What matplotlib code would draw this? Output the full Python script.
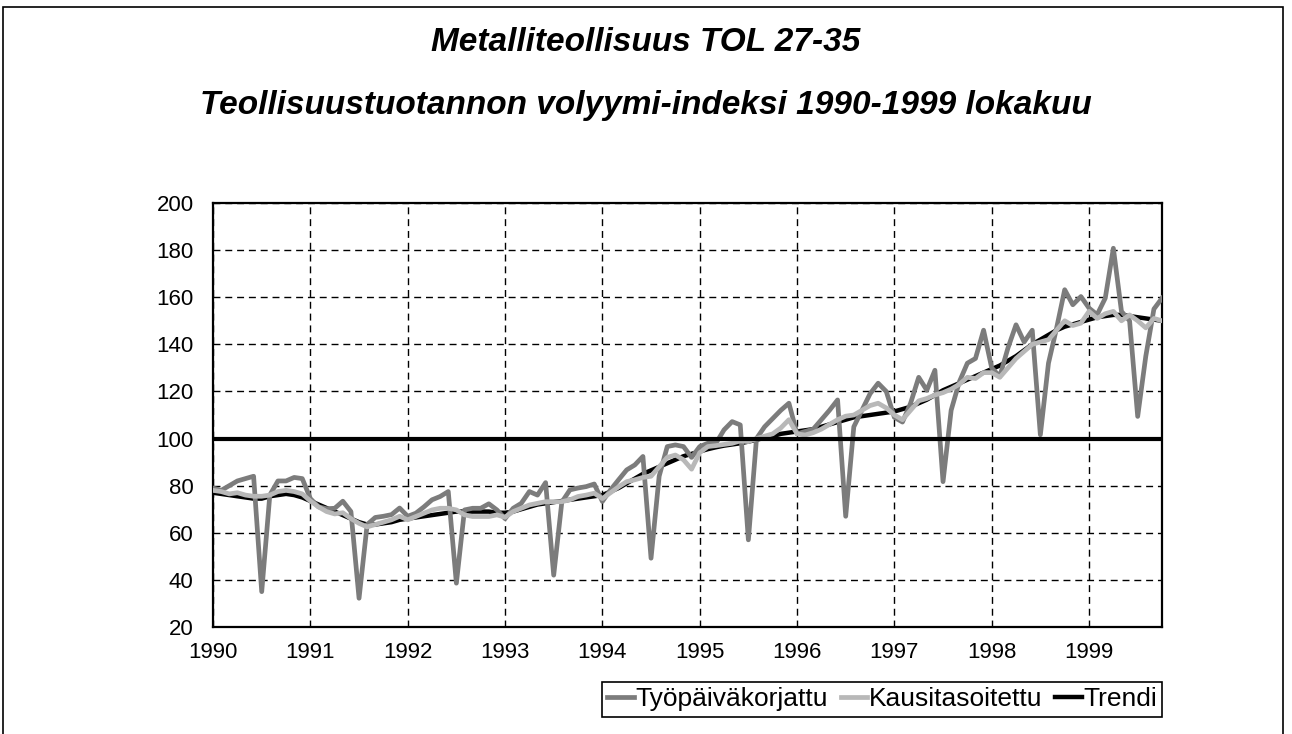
import numpy as np
import matplotlib.pyplot as plt
from matplotlib.patches import Rectangle

# monthly index values, Jan 1990 - Oct 1999
tyopaiva = [
    79, 78, 80, 82, 83, 84, 35, 76, 82, 82, 83.5, 83,
    74.5, 71, 70.2, 70.4, 73.4, 69, 32.2, 63.5, 66.5, 67, 67.7, 70.5,
    67, 68.3, 71, 74, 75.4, 77.5, 38.6, 69.7, 70.4, 70.4, 72.3, 69.7,
    66, 70.4, 72.5, 77.5, 76, 81.3, 42, 73, 78.2, 79, 79.6, 80.7,
    73.3, 78.2, 82.5, 86.7, 88.8, 92.4, 49.2, 84, 96.6, 97.3, 96.6, 92,
    96.6, 98, 98, 103.7, 107.2, 105.8, 57, 100, 105, 108.5, 112, 115,
    102, 103, 104, 108, 112, 116.4, 67, 105, 112, 119, 123.5, 120,
    109, 107, 115, 126, 120.5, 129, 81.7, 112, 124, 132, 134, 146,
    130, 126.4, 138.4, 148.3, 141, 146, 101.6, 132, 146.9, 163.2, 156.8, 160.3,
    155.4, 152.6, 159.6, 180.8, 154, 150, 109.4, 135, 155, 159.6,
]
kausi = [
    78, 77.5, 76.5, 77, 76, 75.5, 75.5, 76, 77.5, 78, 77.5, 76.5,
    73.5, 71, 69, 68, 68.5, 66, 64, 62.5, 63.5, 64.5, 65.5, 67,
    65.5, 66.9, 68.3, 69.7, 70.4, 70.4, 69.7, 67.6, 66.9, 66.9, 66.9, 67.6,
    66.6, 69, 70.4, 71.8, 72.5, 73.2, 73.2, 73.2, 74, 75.4, 76, 76.8,
    74.5, 77, 79.5, 81.7, 82.5, 83.5, 84, 88, 92, 93, 91, 87,
    94, 96.6, 97, 97.5, 98, 99, 98.7, 100, 101, 102, 104.5, 108,
    102, 101.5, 102.5, 104, 106, 108, 109.5, 110, 112, 114, 115, 113,
    110, 108, 112, 116, 117, 118.5, 119.5, 121, 123, 126, 125.5, 128,
    128, 126, 130, 134, 137, 140, 141, 142, 146, 150, 148, 149,
    154, 151, 153, 154, 150, 152.5, 150, 147, 151, 150,
]
trendi = [
    77, 76.5, 76, 75.5, 75, 74.5, 74.5, 75.5, 76, 76.5, 76, 75,
    73.5, 72, 70.5, 69, 67.5, 66, 64.5, 63.5, 63.5, 64, 64.5, 65.5,
    66, 66.5, 67, 67.5, 68, 68.5, 69, 69, 69, 69, 69, 68.5,
    68.5, 69, 70, 71, 72, 72.5, 73, 73.5, 74, 74.5, 75, 75.5,
    76, 77.5, 79, 81, 83, 85, 86.5, 88, 89.5, 91, 92.5, 93.5,
    94.5, 95.5, 96.3, 97, 97.5, 98, 98.7, 99.5, 100.3, 101, 102, 102.5,
    103, 103.5, 104, 105, 106, 107, 108, 109, 109.5, 110, 110.5, 111,
    111.5, 112.5, 113.5, 115, 116.5, 118.5, 120.5, 122, 123.5, 125, 126.5, 128,
    129.5, 131, 133, 135, 137.5, 140, 142, 144, 146, 147.5, 148.5, 149.5,
    150.5, 151.5, 152, 152.5, 152.5, 152, 151.5, 151, 150.5, 150,
]
years = [str(y) for y in range(1990, 2000)]

plt.rcParams['font.family'] = ['Liberation Sans', 'DejaVu Sans']

fig = plt.figure(figsize=(12.92, 7.34), dpi=100)
ax = fig.add_axes([0.1649, 0.1458, 0.7345, 0.5776])

x = np.arange(len(tyopaiva))
lt, = ax.plot(x, trendi, color='black', lw=3.2, zorder=2)
lw, = ax.plot(x, tyopaiva, color='#7c7c7c', lw=3.4, zorder=3)
ls, = ax.plot(x, kausi, color='#b8b8b8', lw=3.4, zorder=4)

ax.axhline(100, color='black', lw=3, zorder=5)

ax.set_xlim(0, len(tyopaiva) - 1)
ax.set_ylim(20, 200)
ax.set_yticks(range(20, 201, 20))
ax.set_xticks(range(0, len(tyopaiva), 12))
ax.set_xticklabels(years)
ax.tick_params(axis='both', length=0, labelsize=16)
ax.tick_params(axis='y', pad=14)
ax.tick_params(axis='x', pad=11)
ax.grid(True, color='black', lw=1, linestyle=(0, (5, 3.5)))
for s in ax.spines.values():
    s.set_linewidth(1.6)

leg = ax.legend([lw, ls, lt], ['Työpäiväkorjattu', 'Kausitasoitettu', 'Trendi'],
                loc='upper right', bbox_to_anchor=(1.0, -0.13), ncol=3,
                fontsize=19, frameon=True, fancybox=False, framealpha=1,
                edgecolor='black', handlelength=1.0, handletextpad=0.05,
                columnspacing=0.5, borderpad=0.2, borderaxespad=0)
leg.get_frame().set_linewidth(1.2)

title_font = ['Liberation Sans Narrow', 'Liberation Sans']
fig.text(0.5, 0.9415, 'Metalliteollisuus TOL 27-35', ha='center', va='center',
         fontsize=24, fontweight='bold', fontstyle='italic', family=title_font)
fig.text(0.5, 0.856, 'Teollisuustuotannon volyymi-indeksi 1990-1999 lokakuu',
         ha='center', va='center', fontsize=24, fontweight='bold',
         fontstyle='italic', family=title_font)

fig.patches.append(Rectangle((3 / 1292, -0.01), 1280 / 1292, 0.9905 + 0.01,
                             transform=fig.transFigure, fill=False,
                             edgecolor='black', lw=1.2))

fig.savefig('out.png', dpi=100)
